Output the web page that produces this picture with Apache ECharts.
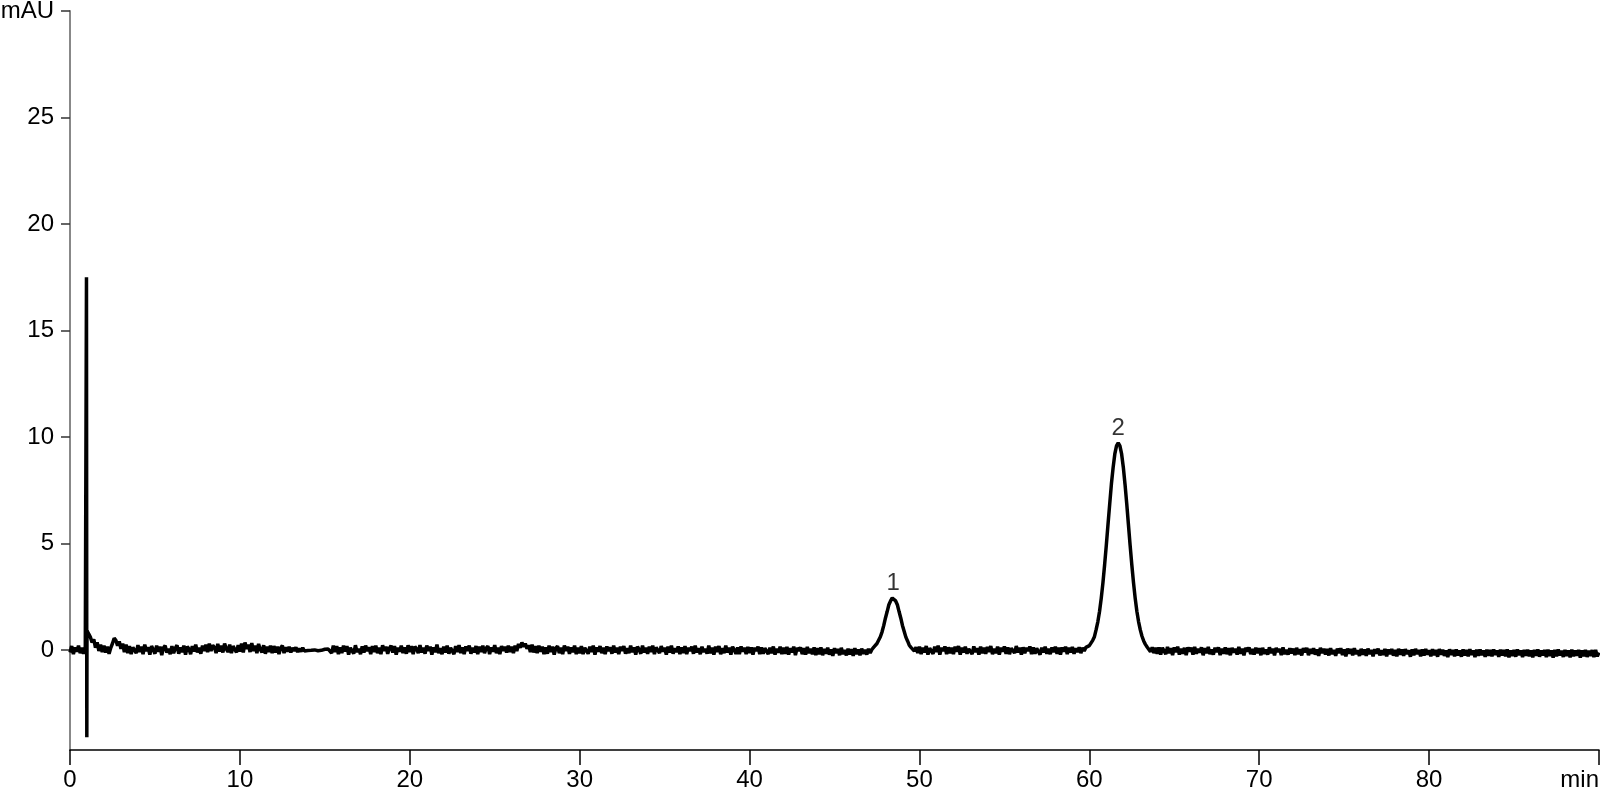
<!DOCTYPE html>
<html>
<head>
<meta charset="utf-8">
<script src="https://cdn.jsdelivr.net/npm/echarts@6/dist/echarts.min.js"></script>
<style>
html,body{margin:0;padding:0;background:#fff;}
#chart{width:1600px;height:800px;}
</style>
</head>
<body>
<div id="chart"></div>
<script>
// Retention time axis (min): samples every 0.1 min from 0 to 90
const sampleStart = 0;
const sampleStep = 0.1;
// Detector signal (mAU), one row = 2 min
const absorbance = [
  -0.12,0.18,-0.2,0.12,-0.08,0.2,-0.15,0.1,-0.18,0.15, 0.9,0.75,0.6,0.35,0.5,0.1,0.35,-0.05,0.25,-0.1,
  0.2,-0.12,0.15,-0.18,0.1,0.3,0.55,0.45,0.2,0.4, 0.05,0.3,-0.1,0.25,-0.15,0.18,-0.2,0.12,0.2,-0.15,
  0.22,-0.1,0.15,-0.2,0.25,-0.05,0.12,-0.22,0.18,0.02, -0.18,0.2,-0.08,0.15,-0.25,0.1,0.2,-0.12,0.05,-0.2,
  0.18,-0.15,0.08,0.22,-0.18,0.12,-0.1,0.2,-0.22,0.15, 0.05,-0.2,0.18,-0.08,0.25,-0.12,0.1,-0.18,0.2,-0.05,
  0.25,-0.1,0.3,-0.05,0.22,0.12,-0.15,0.28,-0.08,0.2, -0.12,0.3,0.05,-0.1,0.25,-0.15,0.18,0.02,-0.12,0.22,
  -0.08,0.3,-0.12,0.35,0.05,0.25,-0.1,0.32,-0.05,0.2, -0.15,0.28,0.02,-0.12,0.22,-0.18,0.15,-0.1,0.2,-0.15,
  0.18,-0.12,0.15,-0.2,0.1,0.2,-0.15,0.12,-0.08,0.15, -0.12,0.1,-0.05,0.12,-0.1,0.06,-0.08,0.1,-0.05,0.04,
  -0.03,0.05,-0.02,0.04,0.0,0.03,-0.04,0.05,-0.02,0.02, 0.03,-0.02,0.04,0.12,-0.15,0.2,-0.1,0.18,-0.2,0.12,
  -0.15,0.2,-0.08,0.18,-0.22,0.1,0.15,-0.18,0.22,-0.1, 0.05,-0.2,0.16,-0.12,0.2,-0.05,0.12,-0.2,0.18,-0.1,
  0.2,-0.15,0.1,-0.2,0.22,-0.05,0.15,-0.18,0.08,0.2, -0.12,0.18,-0.22,0.1,-0.08,0.2,-0.15,0.12,-0.18,0.22,
  -0.1,0.18,-0.2,0.15,0.05,-0.15,0.22,-0.12,0.1,-0.18, 0.2,-0.05,0.15,-0.22,0.12,-0.1,0.25,-0.15,0.08,-0.2,
  0.15,-0.12,0.2,-0.18,0.1,0.05,-0.2,0.18,-0.1,0.22, -0.15,0.12,-0.2,0.16,-0.05,0.2,-0.18,0.1,-0.12,0.18,
  -0.2,0.15,-0.1,0.2,-0.15,0.08,0.18,-0.2,0.12,-0.08, 0.22,-0.15,0.1,-0.2,0.18,-0.05,0.15,-0.12,0.2,-0.1,
  0.15,-0.15,0.2,-0.05,0.28,0.1,0.35,0.15,0.3,0.05, 0.22,-0.1,0.25,-0.12,0.18,-0.15,0.2,-0.08,0.15,-0.2,
  0.12,-0.18,0.2,-0.1,0.15,-0.22,0.08,0.18,-0.15,0.1, -0.2,0.2,-0.05,0.15,-0.18,0.12,-0.1,0.2,-0.2,0.1,
  -0.15,0.18,-0.2,0.1,0.05,-0.18,0.15,-0.1,0.2,-0.22, 0.12,-0.08,0.18,-0.15,0.1,-0.2,0.16,-0.05,0.12,-0.18,
  0.2,-0.12,0.1,-0.2,0.15,-0.05,0.18,-0.18,0.08,-0.15, 0.2,-0.1,0.12,-0.22,0.15,0.02,-0.18,0.2,-0.12,0.1,
  -0.18,0.15,-0.1,0.2,-0.2,0.12,0.05,-0.15,0.18,-0.08, 0.1,-0.22,0.15,-0.12,0.2,-0.18,0.08,-0.1,0.16,-0.2,
  0.12,-0.15,0.18,-0.2,0.1,-0.05,0.15,-0.18,0.2,-0.12, 0.08,-0.2,0.15,-0.1,0.05,-0.18,0.2,-0.15,0.1,-0.22,
  0.15,-0.1,0.18,-0.2,0.08,-0.15,0.2,-0.12,0.1,-0.22, 0.15,0.0,-0.18,0.12,-0.2,0.16,-0.08,0.1,-0.2,0.14,
  -0.15,0.12,-0.22,0.1,-0.05,0.15,-0.2,0.12,-0.18,0.08, 0.14,-0.2,0.1,-0.15,0.16,-0.22,0.05,-0.12,0.15,-0.2,
  0.1,-0.18,0.14,-0.22,0.08,-0.12,0.15,-0.25,0.1,-0.05, 0.12,-0.2,0.08,-0.22,0.14,-0.15,0.05,-0.2,0.12,-0.24,
  0.08,-0.2,0.12,-0.25,0.05,-0.18,0.1,-0.22,0.02,-0.28, 0.08,-0.15,0.05,-0.25,0.1,-0.2,0.0,-0.26,0.06,-0.22,
  0.04,-0.28,0.08,-0.2,0.02,-0.25,0.06,-0.18,0.0,-0.22, 0.05,-0.15,0.02,0.12,0.2,0.3,0.38,0.62,0.85,1.15,
  1.5,1.8,2.12,2.3,2.44,2.42,2.3,2.12,1.8,1.5, 1.15,0.88,0.6,0.42,0.22,0.12,0.05,-0.05,0.12,-0.15,
  0.15,-0.2,0.1,-0.12,0.18,-0.22,0.08,0.12,-0.18,0.15, -0.1,0.2,-0.22,0.1,-0.05,0.16,-0.2,0.12,-0.15,0.1,
  -0.2,0.15,-0.08,0.18,-0.22,0.1,-0.12,0.15,-0.18,0.05, 0.12,-0.2,0.16,-0.1,0.08,-0.22,0.15,-0.15,0.1,-0.18,
  0.14,-0.1,0.18,-0.2,0.05,-0.15,0.15,-0.22,0.1,-0.08, 0.16,-0.18,0.12,-0.2,0.08,0.0,-0.15,0.18,-0.12,0.1,
  -0.22,0.12,-0.15,0.1,-0.05,0.16,-0.2,0.12,-0.18,0.08, 0.14,-0.22,0.1,-0.12,0.15,-0.18,0.05,-0.2,0.12,-0.1,
  0.15,-0.18,0.1,-0.22,0.12,-0.08,0.15,-0.2,0.1,-0.12, 0.14,-0.18,0.08,-0.1,0.12,-0.15,0.1,-0.05,0.12,0.08,
  0.2,0.26,0.45,0.62,0.95,1.32,1.8,2.42,3.15,4.0, 4.92,5.9,6.86,7.8,8.56,9.2,9.58,9.72,9.58,9.2,
  8.58,7.78,6.88,5.9,4.92,4.0,3.16,2.42,1.8,1.32, 0.94,0.64,0.42,0.26,0.14,0.05,-0.08,0.12,-0.15,0.1,
  -0.18,0.12,-0.22,0.1,0.02,-0.2,0.14,-0.15,0.08,-0.24, 0.12,-0.1,0.15,-0.22,0.05,-0.18,0.1,-0.25,0.12,-0.08,
  0.1,-0.22,0.14,-0.18,0.05,-0.12,0.12,-0.25,0.08,-0.15, 0.14,-0.2,0.02,-0.22,0.1,-0.1,0.12,-0.24,0.06,-0.18,
  0.12,-0.2,0.08,-0.25,0.1,-0.12,0.05,-0.22,0.14,-0.18, 0.06,-0.26,0.1,-0.08,0.12,-0.2,0.04,-0.22,0.1,-0.15,
  0.08,-0.25,0.1,-0.18,0.02,-0.22,0.12,-0.15,0.06,-0.26, 0.1,-0.1,0.05,-0.24,0.12,-0.2,0.0,-0.22,0.08,-0.16,
  0.06,-0.24,0.1,-0.2,0.03,-0.26,0.08,-0.12,0.1,-0.25, 0.04,-0.18,0.08,-0.22,0.02,-0.28,0.1,-0.15,0.05,-0.22,
  0.04,-0.26,0.08,-0.2,0.0,-0.28,0.06,-0.15,0.08,-0.24, 0.02,-0.3,0.06,-0.18,0.04,-0.25,0.08,-0.2,-0.02,-0.28,
  0.05,-0.22,0.02,-0.28,0.06,-0.2,0.0,-0.3,0.04,-0.18, 0.06,-0.26,-0.02,-0.24,0.05,-0.3,0.02,-0.2,0.04,-0.27,
  0.0,-0.3,0.05,-0.22,0.02,-0.28,0.04,-0.2,-0.02,-0.32, 0.03,-0.25,0.05,-0.2,0.0,-0.3,0.02,-0.26,0.04,-0.22,
  -0.02,-0.3,0.03,-0.25,0.0,-0.32,0.04,-0.22,0.01,-0.28, -0.02,-0.34,0.03,-0.24,0.0,-0.3,0.02,-0.26,-0.03,-0.32,
  0.02,-0.26,0.0,-0.3,0.03,-0.24,-0.02,-0.34,0.01,-0.28, 0.02,-0.25,-0.03,-0.32,0.01,-0.27,0.0,-0.3,0.02,-0.24,
  -0.02,-0.33,0.01,-0.26,0.0,-0.3,0.02,-0.35,-0.02,-0.28, 0.0,-0.32,0.02,-0.25,-0.03,-0.34,0.0,-0.28,0.01,-0.3,
  -0.02,-0.35,0.0,-0.27,0.02,-0.32,-0.03,-0.26,0.0,-0.34, 0.01,-0.28,-0.02,-0.36,0.0,-0.3,0.02,-0.26,-0.04,-0.33,
  0.0,-0.28,-0.02,-0.35,0.01,-0.3,-0.03,-0.27,0.0,-0.36, -0.02,-0.3,0.0,-0.33,-0.04,-0.28,-0.01,-0.34,0.0,-0.3,
  -0.12
];
// Solvent-front spike near 1 min
const solventFrontTimes = [0.97, 0.99];
const solventFrontValues = [17.5, -4.1];
// Labelled peaks
const peakNames = ['1', '2'];
const peakTimes = [48.45, 61.7];
const peakApex = [2.44, 9.72];
// Axis ticks and units
const xTicks = [0, 10, 20, 30, 40, 50, 60, 70, 80, 90];
const yTicks = [0, 5, 10, 15, 20, 25, 30];
const xUnit = 'min';
const yUnit = 'mAU';

const trace = absorbance.map((v, i) => [+(sampleStart + i * sampleStep).toFixed(2), v]);
solventFrontTimes.forEach((t, i) => trace.push([t, solventFrontValues[i]]));
trace.sort((a, b) => a[0] - b[0]);

const peakData = peakTimes.map((t, i) => ({ value: [t, peakApex[i]], name: peakNames[i] }));

const FONT = '"Liberation Sans", Arial, sans-serif';
const chart = echarts.init(document.getElementById('chart'), null, { renderer: 'canvas' });
chart.setOption({
  animation: false,
  backgroundColor: '#fff',
  grid: { left: 70, right: 1, top: 11, bottom: 50, containLabel: false, outerBoundsMode: 'none' },
  xAxis: {
    type: 'value',
    min: 0, max: 90, interval: 10,
    axisLine: { onZero: false, lineStyle: { color: '#000', width: 1.5 } },
    axisTick: { show: true, length: 15, lineStyle: { color: '#000', width: 1.5 }, customValues: xTicks },
    axisLabel: {
      customValues: xTicks,
      margin: 18, color: '#000', fontSize: 24, fontFamily: FONT,
      alignMaxLabel: 'right',
      formatter: v => (v === 90 ? xUnit : String(v))
    },
    splitLine: { show: false }
  },
  yAxis: {
    type: 'value',
    min: -4.7, max: 30,
    axisLine: { show: true, lineStyle: { color: '#888', width: 2 } },
    axisTick: { show: true, length: 9, customValues: yTicks, lineStyle: { color: '#333', width: 1.5 } },
    axisLabel: {
      customValues: yTicks,
      margin: 16, color: '#000', fontSize: 24, fontFamily: FONT,
      formatter: v => (v === 30 ? yUnit : String(v))
    },
    splitLine: { show: false }
  },
  series: [
    {
      type: 'line',
      data: trace,
      showSymbol: false,
      symbol: 'none',
      sampling: null,
      lineStyle: { color: '#000', width: 3.5 },
      z: 3
    },
    {
      type: 'scatter',
      data: peakData,
      symbolSize: 2,
      itemStyle: { color: 'rgba(0,0,0,0)' },
      label: {
        show: true, position: 'top', distance: 2,
        formatter: p => p.name,
        color: '#000', fontSize: 24, fontFamily: FONT
      },
      z: 4
    }
  ]
});
</script>
</body>
</html>
